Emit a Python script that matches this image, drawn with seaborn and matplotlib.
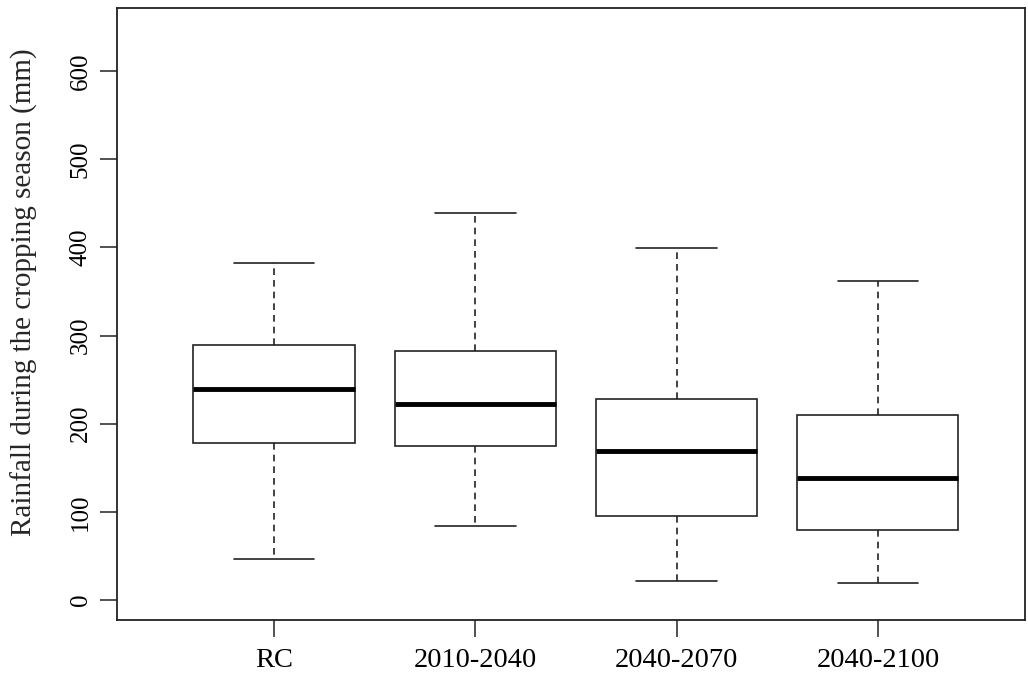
import numpy as np
import pandas as pd
import seaborn as sns
from matplotlib import pyplot as plt

# five-number summaries: min, Q1, median, Q3, max
periods = ['RC', '2010-2040', '2040-2070', '2040-2100']
rain_min = [46, 84, 21, 19]
rain_q1 = [178, 175, 95, 79]
rain_median = [239, 222, 169, 138]
rain_q3 = [289, 282, 228, 210]
rain_max = [382, 439, 399, 362]

rows = []
for i, p in enumerate(periods):
    for v in (rain_min[i], rain_q1[i], rain_median[i], rain_q3[i], rain_max[i]):
        rows.append({'period': p, 'rainfall': v})
df = pd.DataFrame(rows)

sns.set_style('white')
plt.rcParams['font.family'] = ['Liberation Serif', 'DejaVu Serif']

fig = plt.figure(figsize=(10.28, 6.75), dpi=100)
ax = fig.add_axes([0.1138, 0.0815, 0.8832, 0.9065])

sns.boxplot(
    data=df, x='period', y='rainfall', order=periods,
    color='white', linecolor='#222222', linewidth=1.2, width=0.8,
    whis=(0, 100), fliersize=0,
    medianprops=dict(color='black', linewidth=3.5),
    whiskerprops=dict(linestyle=(0, (4, 3)), linewidth=1.2),
    capprops=dict(linewidth=1.2),
    ax=ax,
)

ax.set_xlim(-0.78, 3.73)
ax.set_ylim(-22.7, 671.4)
ax.set_yticks([0, 100, 200, 300, 400, 500, 600])
ax.set_xlabel('')
ax.set_ylabel('Rainfall during the cropping season (mm)', fontsize=21)
ax.yaxis.set_label_coords(-0.087, 0.536)

for s in ax.spines.values():
    s.set_color('#222222')
    s.set_linewidth(1.3)

ax.tick_params(axis='both', direction='out', length=12, width=1.2, color='#333333',
               labelcolor='black', left=True, bottom=True)
ax.tick_params(axis='x', pad=8, labelsize=20.5)
ax.tick_params(axis='y', pad=6, labelsize=18)
for lab in ax.get_yticklabels():
    lab.set_rotation(90)
    lab.set_verticalalignment('center')

fig.savefig('out.png', dpi=100)
